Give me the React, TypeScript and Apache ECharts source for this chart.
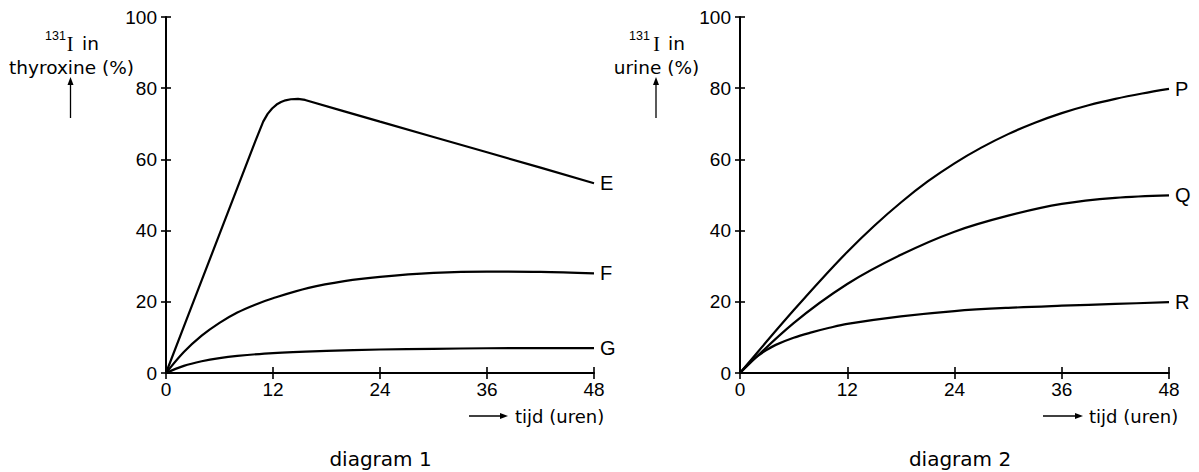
import React, { useEffect, useRef } from "react";
import * as echarts from "echarts";

// ---- Data ----
const eHours = [0, 2, 4, 6, 8, 10, 10.9, 11.4, 11.9, 12.4, 12.9, 13.4, 14, 14.8, 15.6, 20, 24, 30, 36, 42, 48];
const eValues = [0, 13, 26, 39, 52, 65, 70.6, 72.8, 74.3, 75.4, 76.1, 76.6, 76.9, 77, 76.7, 73.5, 70.6, 66.3, 62.0, 57.7, 53.3];

const fHours = [0, 2, 4, 6, 8, 10, 12, 16, 20, 24, 30, 36, 42, 48];
const fValues = [0, 5.9, 10.5, 14.1, 17, 19.2, 21, 23.9, 25.8, 27, 28.1, 28.5, 28.4, 28];

const gHours = [0, 2, 4, 6, 8, 12, 18, 24, 30, 36, 42, 48];
const gValues = [0, 2.0, 3.3, 4.2, 4.8, 5.6, 6.2, 6.6, 6.8, 6.95, 7, 7];

const pHours = [0, 3, 6, 9, 12, 15, 18, 21, 24, 27, 30, 33, 36, 39, 42, 45, 48];
const pValues = [0, 8.9, 17.6, 26.0, 34.0, 41.3, 47.9, 53.8, 58.9, 63.3, 67.1, 70.3, 73.0, 75.2, 77.0, 78.5, 79.8];

const qHours = [0, 6, 12, 18, 24, 30, 36, 42, 48];
const qValues = [0, 14, 25, 33.2, 39.7, 44.2, 47.5, 49.2, 49.9];

const rHours = [0, 1, 2, 3, 4, 6, 8, 10, 12, 18, 24, 30, 36, 42, 48];
const rValues = [0, 2.7, 4.8, 6.5, 7.9, 9.9, 11.4, 12.7, 13.8, 15.9, 17.4, 18.3, 18.9, 19.4, 19.9];

const xMin = 0;
const xMax = 48;
const xStep = 12;
const yMin = 0;
const yMax = 100;
const yStep = 20;

const diagramTitles = ["diagram 1", "diagram 2"];
const yAxisTitles = ["thyroxine (%)", "urine (%)"];
const xAxisTitle = "tijd (uren)";

const SANS = "DejaVu Sans";
const NUM = "Liberation Sans";
const SERIF = "Liberation Serif";

const pairs = (xs: number[], ys: number[]) => xs.map((x, i) => [x, ys[i]]);

function makeX(gridIndex: number, inside: boolean) {
  return {
    gridIndex,
    type: "value",
    position: "bottom",
    min: xMin,
    max: xMax,
    interval: xStep,
    axisLine: { show: !inside, onZero: false, lineStyle: { color: "#000", width: 2 } },
    axisTick: { show: true, inside, length: 6, lineStyle: { color: "#000", width: 1.6 } },
    axisLabel: { show: !inside, color: "#000", fontSize: 19, fontFamily: NUM, margin: 7 },
    splitLine: { show: false },
  };
}

function makeY(gridIndex: number, inside: boolean) {
  return {
    gridIndex,
    type: "value",
    position: "left",
    min: yMin,
    max: yMax,
    interval: yStep,
    axisLine: { show: !inside, onZero: false, lineStyle: { color: "#000", width: 2 } },
    axisTick: { show: true, inside, length: 5, lineStyle: { color: "#000", width: 1.6 } },
    axisLabel: { show: !inside, color: "#000", fontSize: 19, fontFamily: NUM, margin: 9 },
    splitLine: { show: false },
  };
}

function makeSeries(name: string, xs: number[], ys: number[], grid: number, smooth: number | boolean) {
  return {
    name,
    type: "line",
    xAxisIndex: grid * 2,
    yAxisIndex: grid * 2,
    data: pairs(xs, ys),
    smooth,
    showSymbol: false,
    symbol: "none",
    lineStyle: { color: "#000", width: 2.2 },
    itemStyle: { color: "#000" },
    endLabel: {
      show: true,
      formatter: "{a}",
      distance: 6,
      color: "#000",
      fontSize: 20,
      fontFamily: NUM,
    },
    emphasis: { disabled: true },
  };
}

function upArrow(x: number, yTop: number, yBottom: number) {
  return [
    { type: "line", shape: { x1: x, y1: yBottom, x2: x, y2: yTop + 6 }, style: { stroke: "#000", lineWidth: 1.3 } },
    { type: "polygon", shape: { points: [[x, yTop], [x - 3, yTop + 8], [x + 3, yTop + 8]] }, style: { fill: "#000" } },
  ];
}

function rightArrow(x1: number, x2: number, y: number) {
  return [
    { type: "line", shape: { x1, y1: y, x2: x2 - 6, y2: y }, style: { stroke: "#000", lineWidth: 1.3 } },
    { type: "polygon", shape: { points: [[x2, y], [x2 - 8, y - 3], [x2 - 8, y + 3]] }, style: { fill: "#000" } },
  ];
}

function text(str: string, x: number, y: number, size: number, align: string, family = SANS) {
  return {
    type: "text",
    x,
    y,
    style: {
      text: str,
      fill: "#000",
      fontSize: size,
      fontFamily: family,
      textAlign: align,
      textVerticalAlign: "middle",
    },
  };
}

export default function App() {
  const ref = useRef<HTMLDivElement>(null);

  useEffect(() => {
    if (!ref.current) return;
    const chart = echarts.init(ref.current, undefined, { renderer: "svg" });
    const option = {
      animation: false,
      backgroundColor: "#fff",
      grid: [
        { left: 166, top: 17, width: 428, height: 356 },
        { left: 740, top: 17, width: 429, height: 356 },
      ],
      xAxis: [makeX(0, false), makeX(0, true), makeX(1, false), makeX(1, true)],
      yAxis: [makeY(0, false), makeY(0, true), makeY(1, false), makeY(1, true)],
      series: [
        makeSeries("E", eHours, eValues, 0, false),
        makeSeries("F", fHours, fValues, 0, 0.35),
        makeSeries("G", gHours, gValues, 0, 0.35),
        makeSeries("P", pHours, pValues, 1, 0.35),
        makeSeries("Q", qHours, qValues, 1, 0.35),
        makeSeries("R", rHours, rValues, 1, 0.35),
      ],
      graphic: [
        // diagram 1 y-axis title
        text("131", 45, 36, 12.5, "left", NUM),
        text("I", 70, 44, 20, "center", SERIF),
        text("in", 82, 43, 18.5, "left"),
        text(yAxisTitles[0], 71.5, 67, 18.5, "center"),
        ...upArrow(70.5, 77, 118),
        // diagram 2 y-axis title
        text("131", 629, 36, 12.5, "left", NUM),
        text("I", 656.5, 44, 20, "center", SERIF),
        text("in", 668, 43, 18.5, "left"),
        text(yAxisTitles[1], 656.5, 67, 18.5, "center"),
        ...upArrow(656, 77, 118),
        // x-axis titles
        ...rightArrow(469, 508, 416),
        text(xAxisTitle, 515, 416, 18, "left"),
        ...rightArrow(1043, 1083, 416),
        text(xAxisTitle, 1089, 416, 18, "left"),
        // diagram titles
        text(diagramTitles[0], 380.5, 459, 20, "center"),
        text(diagramTitles[1], 960, 459, 20, "center"),
      ],
    };
    chart.setOption(option as any);
    return () => chart.dispose();
  }, []);

  return (
    <div
      ref={ref}
      style={{ position: "fixed", left: 0, top: 0, width: 1199, height: 472, background: "#fff" }}
    />
  );
}
